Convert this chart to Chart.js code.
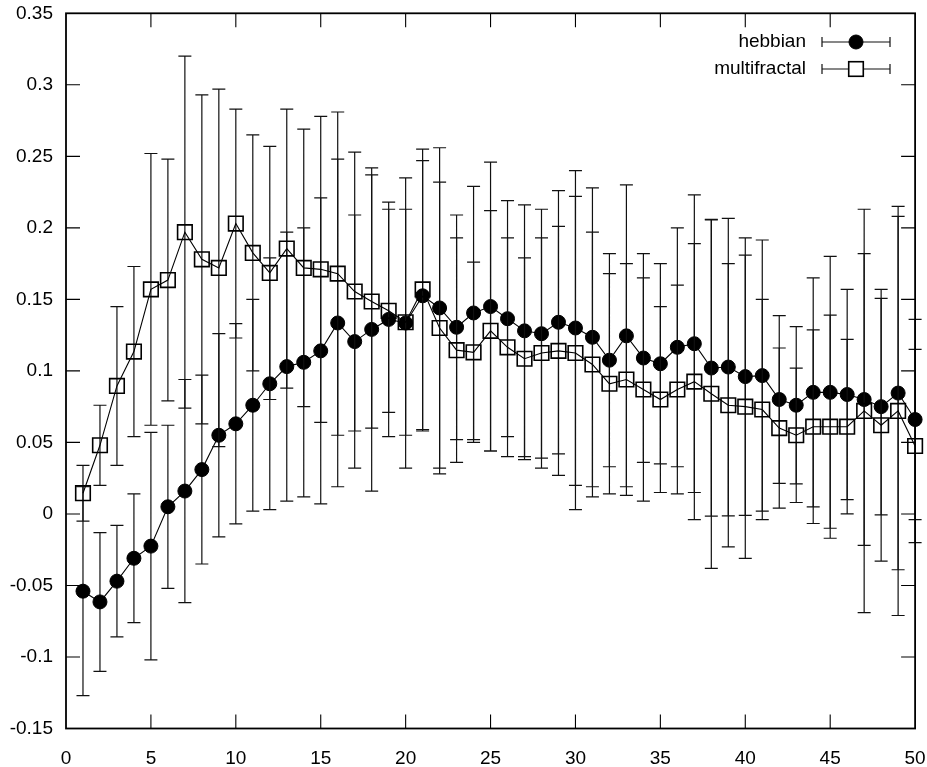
<!DOCTYPE html>
<html><head><meta charset="utf-8">
<script src="https://cdn.jsdelivr.net/npm/chart.js@4/dist/chart.umd.min.js"></script>
<style>html,body{margin:0;padding:0;background:#fff}canvas{display:block}</style>
</head><body>
<canvas id="c" width="927" height="767"></canvas>
<script>
// ---- data ----
const xValues = [1,2,3,4,5,6,7,8,9,10,11,12,13,14,15,16,17,18,19,20,21,22,23,24,25,26,27,28,29,30,31,32,33,34,35,36,37,38,39,40,41,42,43,44,45,46,47,48,49,50];
const hebbian = [-0.054,-0.0615,-0.047,-0.031,-0.0225,0.005,0.016,0.031,0.055,0.063,0.076,0.091,0.103,0.106,0.114,0.1335,0.1205,0.129,0.136,0.1335,0.1525,0.144,0.1305,0.1405,0.145,0.1365,0.128,0.126,0.134,0.130,0.1235,0.1075,0.1245,0.109,0.105,0.1165,0.119,0.102,0.1027,0.096,0.0967,0.080,0.076,0.085,0.085,0.0835,0.080,0.075,0.0845,0.066];
const hebbianErr = [0.073,0.0485,0.039,0.045,0.0795,0.057,0.078,0.066,0.071,0.070,0.074,0.088,0.094,0.094,0.107,0.1145,0.0885,0.113,0.082,0.1015,0.0945,0.112,0.0785,0.0885,0.101,0.0825,0.088,0.087,0.092,0.110,0.1045,0.0745,0.1055,0.073,0.070,0.0835,0.104,0.1035,0.104,0.097,0.0948,0.0587,0.055,0.080,0.095,0.0735,0.102,0.0757,0.1235,0.070];
const multifractal = [0.0145,0.048,0.0895,0.1135,0.157,0.1635,0.197,0.178,0.172,0.203,0.1825,0.1685,0.1855,0.172,0.171,0.168,0.1555,0.1485,0.142,0.134,0.157,0.130,0.1145,0.113,0.128,0.1165,0.1085,0.1125,0.114,0.1125,0.1045,0.091,0.094,0.087,0.080,0.087,0.0925,0.084,0.076,0.075,0.073,0.060,0.055,0.061,0.061,0.061,0.072,0.062,0.072,0.0475];
const multifractalErr = [0.0195,0.028,0.0555,0.0595,0.095,0.0845,0.123,0.115,0.125,0.080,0.0825,0.0885,0.0975,0.097,0.107,0.113,0.0975,0.0885,0.071,0.079,0.098,0.102,0.0785,0.063,0.084,0.0765,0.0705,0.0805,0.087,0.1095,0.0925,0.077,0.081,0.078,0.065,0.073,0.0965,0.122,0.099,0.106,0.077,0.056,0.047,0.0677,0.078,0.061,0.141,0.095,0.143,0.0675];
const seriesLabels = ['hebbian','multifractal'];
const xTickLabels = ['0','5','10','15','20','25','30','35','40','45','50'];
const yTickLabels = ['-0.15','-0.1','-0.05','0','0.05','0.1','0.15','0.2','0.25','0.3','0.35'];

const FONT = '"Liberation Sans", Arial, Helvetica, sans-serif';
const errorsByDataset = [hebbianErr, multifractalErr];

const errorBarPlugin = {
  id: 'errorBars',
  beforeDatasetDraw(chart, args) {
    const ds = chart.data.datasets[args.index];
    const errs = errorsByDataset[args.index];
    const xs = chart.scales.x, ys = chart.scales.y, ctx = chart.ctx;
    ctx.save();
    ctx.strokeStyle = '#111';
    ctx.lineWidth = 1.2;
    ctx.beginPath();
    ds.data.forEach((p, i) => {
      const px = xs.getPixelForValue(p.x);
      const t = ys.getPixelForValue(p.y + errs[i]);
      const b = ys.getPixelForValue(p.y - errs[i]);
      ctx.moveTo(px, t); ctx.lineTo(px, b);
      ctx.moveTo(px - 6.5, t); ctx.lineTo(px + 6.5, t);
      ctx.moveTo(px - 6.5, b); ctx.lineTo(px + 6.5, b);
    });
    ctx.stroke();
    ctx.restore();
  }
};

const frameLegendPlugin = {
  id: 'frameLegend',
  afterDraw(chart) {
    const ctx = chart.ctx, a = chart.chartArea;
    const xs = chart.scales.x, ys = chart.scales.y;
    ctx.save();
    ctx.strokeStyle = '#000';
    ctx.lineWidth = 1.1;
    ctx.beginPath();
    xs.ticks.forEach(t => {
      const px = xs.getPixelForValue(t.value);
      if (px < a.left + 2 || px > a.right - 2) return;
      ctx.moveTo(px, a.bottom); ctx.lineTo(px, a.bottom - 14);
      ctx.moveTo(px, a.top); ctx.lineTo(px, a.top + 14);
    });
    ys.ticks.forEach(t => {
      const py = ys.getPixelForValue(t.value);
      if (py < a.top + 2 || py > a.bottom - 2) return;
      ctx.moveTo(a.left, py); ctx.lineTo(a.left + 14, py);
      ctx.moveTo(a.right, py); ctx.lineTo(a.right - 14, py);
    });
    ctx.stroke();
    ctx.lineWidth = 1.8;
    ctx.strokeRect(a.left, a.top, a.right - a.left, a.bottom - a.top);
    // legend
    ctx.font = '19px ' + FONT;
    ctx.fillStyle = '#000';
    ctx.textAlign = 'right';
    ctx.textBaseline = 'middle';
    chart.data.datasets.forEach((ds, i) => {
      const y = 42 + i * 27;
      ctx.fillText(ds.label, 806, y);
      ctx.lineWidth = 1.2;
      ctx.strokeStyle = '#111';
      ctx.beginPath();
      ctx.moveTo(822, y); ctx.lineTo(890, y);
      ctx.moveTo(822, y - 5); ctx.lineTo(822, y + 5);
      ctx.moveTo(890, y - 5); ctx.lineTo(890, y + 5);
      ctx.stroke();
      ctx.strokeStyle = '#000';
      if (ds.pointStyle === 'circle') {
        ctx.lineWidth = 1;
        ctx.beginPath();
        ctx.arc(856, y, ds.pointRadius, 0, Math.PI * 2);
        ctx.fillStyle = '#000';
        ctx.fill();
        ctx.stroke();
      } else {
        const s = ds.pointRadius * Math.SQRT1_2;
        ctx.lineWidth = ds.pointBorderWidth;
        ctx.fillStyle = '#fff';
        ctx.fillRect(856 - s, y - s, 2 * s, 2 * s);
        ctx.strokeRect(856 - s, y - s, 2 * s, 2 * s);
      }
      ctx.fillStyle = '#000';
    });
    ctx.restore();
  }
};

new Chart(document.getElementById('c'), {
  type: 'line',
  data: {
    datasets: [
      {
        label: seriesLabels[0],
        data: xValues.map((x, i) => ({ x: x, y: hebbian[i] })),
        borderColor: '#000', borderWidth: 1.1,
        pointStyle: 'circle', pointRadius: 7, pointBorderWidth: 1,
        pointBackgroundColor: '#000', pointBorderColor: '#000',
        fill: false, tension: 0, order: 2, clip: false
      },
      {
        label: seriesLabels[1],
        data: xValues.map((x, i) => ({ x: x, y: multifractal[i] })),
        borderColor: '#000', borderWidth: 1.1,
        pointStyle: 'rect', pointRadius: 10.3, pointBorderWidth: 1.6,
        pointBackgroundColor: 'rgba(0,0,0,0)', pointBorderColor: '#000',
        fill: false, tension: 0, order: 1, clip: false
      }
    ]
  },
  options: {
    responsive: false,
    animation: false,
    devicePixelRatio: 1,
    layout: { padding: { left: 0, right: 10.3, top: 13.3, bottom: 0 } },
    plugins: { legend: { display: false }, tooltip: { enabled: false } },
    scales: {
      x: {
        type: 'linear', min: 0, max: 50,
        grid: { display: false, drawTicks: false },
        border: { display: false },
        afterFit: s => { s.height = 38.5; s.paddingLeft = 0; s.paddingRight = 0; },
        ticks: {
          stepSize: 5, padding: 19, color: '#000', maxRotation: 0,
          font: { family: FONT, size: 19 },
          callback: (v, i) => xTickLabels[i]
        }
      },
      y: {
        type: 'linear', min: -0.15, max: 0.35,
        grid: { display: false, drawTicks: false },
        border: { display: false },
        afterFit: s => { s.width = 66; s.paddingTop = 0; s.paddingBottom = 0; },
        ticks: {
          stepSize: 0.05, padding: 13, color: '#000',
          font: { family: FONT, size: 19 },
          callback: (v, i) => yTickLabels[i]
        }
      }
    }
  },
  plugins: [errorBarPlugin, frameLegendPlugin]
});
</script>
</body></html>
